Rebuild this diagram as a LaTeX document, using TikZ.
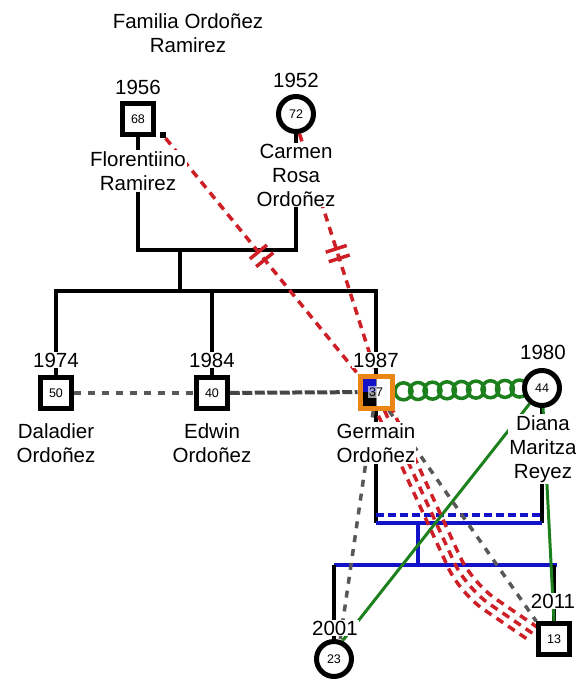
\documentclass[tikz,border=0pt]{standalone}
\usepackage{fontspec}
\setmainfont{Liberation Sans}
\usetikzlibrary{backgrounds,decorations.markings}
\definecolor{cutred}{RGB}{206,30,38}
\definecolor{tiegreen}{RGB}{28,128,28}
\definecolor{linkblue}{RGB}{18,18,200}
\definecolor{idxorange}{RGB}{234,134,22}
\definecolor{dashgray}{RGB}{88,88,88}
\newcommand{\namefont}{\fontsize{20.5}{24}\selectfont}
\newcommand{\agefont}{\fontsize{12.5}{13}\selectfont}
\tikzset{
  male/.style     = {rectangle,draw,line width=4.5pt,minimum size=31pt,inner sep=0pt,fill=white,font=\agefont},
  female/.style   = {circle,draw,line width=5pt,minimum size=35pt,inner sep=0pt,fill=white,font=\agefont},
  index/.style    = {male,draw=idxorange,line width=5pt,minimum size=32pt,
                     path picture={
                       \fill[linkblue] (path picture bounding box.center) rectangle (path picture bounding box.north west);
                       \fill[black] (path picture bounding box.center) rectangle (path picture bounding box.south west);
                       \draw[gray,line width=1pt] (path picture bounding box.north) -- (path picture bounding box.south);}},
  agetag/.style   = {font=\agefont,fill=white,fill opacity=.6,text opacity=1,inner sep=1.5pt},
  yearlbl/.style  = {font=\namefont,fill=white,inner sep=1pt},
  namelbl/.style  = {align=center,font=\namefont,fill=white,inner sep=1pt},
  famline/.style  = {line width=3.5pt},
  blueline/.style = {linkblue,line width=3.5pt},
  cutoff/.style   = {cutred,line width=3.5pt,dash pattern=on 8pt off 6pt},
  cutmark/.style  = {postaction={decorate,decoration={markings,
                     mark=at position .5 with {\draw[solid,cutred,line width=3.5pt]
                       (-5pt,-11pt) -- (-5pt,11pt) (5pt,-11pt) -- (5pt,11pt);}}}},
  distant/.style  = {dashgray,line width=3.5pt,dash pattern=on 7pt off 7pt},
  fused/.style    = {dashgray!80!black,line width=4pt,dash pattern=on 10pt off 2.5pt},
  tiecoil/.style  = {postaction={decorate,decoration={markings,
                     mark=between positions 9pt and 1 step 14.5pt with
                       {\draw[tiegreen,line width=3.5pt] (0pt,0pt) circle (8.5pt);}}}},
  tieline/.style  = {tiegreen,line width=3pt}
}

\begin{document}
\begin{tikzpicture}[x=1pt,y=-1pt]
  \useasboundingbox (0,0) rectangle (576,681);
  \node[namelbl] (title) at (188,33) {Familia Ordoñez\\Ramirez};
  % grandparents
  \node[male]    (flor)    at (138,119) {68};
  \node[fill,minimum size=6pt,inner sep=0pt] (flmark) at (163,135) {};
  \node[yearlbl] (florY)   at (138,87)  {1956};
  \node[namelbl] (florN)   at (138,171) {Florentiino\\Ramirez};
  \node[female]  (carmen)  at (296,114) {72};
  \node[yearlbl] (carmenY) at (296,80)  {1952};
  \node[namelbl] (carmenN) at (296,175) {Carmen\\Rosa\\Ordoñez};
  % children
  \node[male]    (dala)    at (56,393)  {50};
  \node[yearlbl] (dalaY)   at (56,360)  {1974};
  \node[namelbl] (dalaN)   at (56,443)  {Daladier\\Ordoñez};
  \node[male]    (edwin)   at (212,393) {40};
  \node[yearlbl] (edwinY)  at (212,360) {1984};
  \node[namelbl] (edwinN)  at (212,443) {Edwin\\Ordoñez};
  \node[index]   (germain) at (376,392) {};
  \node[agetag]  (germainAge) at (germain) {37};
  \node[yearlbl] (germainY) at (376,360) {1987};
  \node[namelbl] (germainN) at (376,443) {Germain\\Ordoñez};
  \node[female]  (diana)   at (542,388) {44};
  \node[yearlbl] (dianaY)  at (543,352) {1980};
  \node[namelbl] (dianaN)  at (543,449) {Diana\\Maritza\\Reyez};
  % grandchildren
  \node[female]  (daughter)  at (334,659) {23};
  \node[yearlbl] (daughterY) at (335,628) {2001};
  \node[male]    (son)       at (554,639) {13};
  \node[yearlbl] (sonY)      at (553,601) {2011};

  \begin{scope}[on background layer]
    \coordinate (pbar) at (180,250);
    \coordinate (sbar) at (180,291);
    \coordinate (cbar) at (418,523);
    \coordinate (kbar) at (418,565);
    \coordinate (rbend) at (466,588);
    \draw[famline] (flor) |- (pbar) -| (carmen);
    \draw[famline] (pbar) -- (sbar);
    \draw[famline] (dala) |- (sbar) -| (germain);
    \draw[famline] (edwin) -- (edwin |- sbar);
    % couple and their kids
    \draw[famline] (germain) -- (germain |- cbar);
    \draw[famline] (diana) -- (diana |- cbar);
    \draw[blueline] (germain |- cbar) -- (diana |- cbar);
    \draw[blueline,dash pattern=on 8pt off 4pt] ([yshift=8pt]germain |- cbar) -- ([yshift=8pt]diana |- cbar);
    \draw[blueline] (cbar) -- (kbar);
    \draw[blueline] (daughter |- kbar) -- ([xshift=3pt]son |- kbar);
    \draw[famline] (daughter) -- (daughter |- kbar);
    \draw[famline] (son) -- (son |- kbar);
    \draw[tieline] (diana) -- (daughter.65);
    \draw[tieline] (diana) -- (son.north);
    \path[tiecoil] (germain) -- (diana);
    % emotional lines
    \draw[distant] (dala) -- (edwin);
    \draw[fused] (edwin) -- (germain);
    \draw[distant] (germain) -- (daughter.72);
    \draw[distant] (germain) -- (son.north west);
    \draw[cutoff,cutmark] (flmark) -- (germain.north west);
    \draw[cutoff,cutmark] (carmen.-80) -- (germain.north);
    \foreach \s in {-1,0,1}
      \draw[cutoff,rounded corners=28pt,transform canvas={shift={(6*\s,-5.3*\s)}}]
        (germain) -- (rbend) -- (son.170);
  \end{scope}
\end{tikzpicture}
\end{document}
